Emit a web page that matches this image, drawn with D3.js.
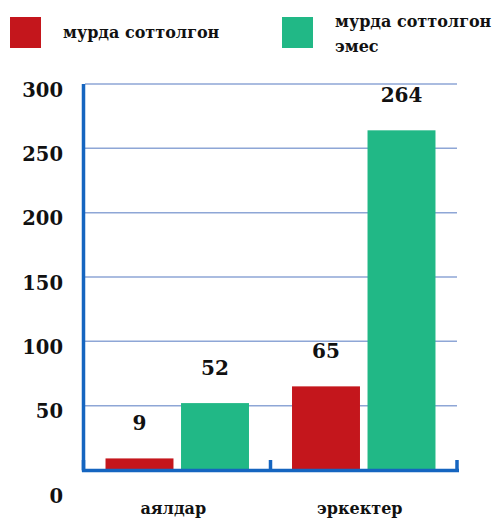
<!DOCTYPE html>
<html>
<head>
<meta charset="utf-8">
<script src="https://cdn.jsdelivr.net/npm/d3@7"></script>
<style>
  body { margin: 0; background: #fff; }
  text { font-family: "DejaVu Serif", serif; font-weight: bold; fill: #111; }
</style>
</head>
<body>
<div id="chart"></div>
<script>
var categories = ['аялдар', 'эркектер'];
var seriesNames = ['мурда соттолгон', 'мурда соттолгон эмес'];
var convicted = [9, 65];
var notConvicted = [52, 264];
var yTicks = [0, 50, 100, 150, 200, 250, 300];
var colors = ['#c4161c', '#21b886'];

var width = 496, height = 521;
var axisColor = '#1565c0', gridColor = '#8ea6d6';

var svg = d3.select('#chart').append('svg')
  .attr('width', width)
  .attr('height', height);

var x = d3.scaleBand().domain(categories).range([84, 457]);
var y = d3.scaleLinear().domain([0, 300]).range([470, 84]);
var xs = d3.scaleBand().domain(seriesNames).range([0, x.bandwidth()]).paddingInner(0.1).paddingOuter(0.285);

// gridlines
svg.selectAll('.grid')
  .data(yTicks.filter(function(d) { return d > 0; }))
  .enter().append('line')
  .attr('x1', 85).attr('x2', 457)
  .attr('y1', function(d) { return y(d); })
  .attr('y2', function(d) { return y(d); })
  .attr('stroke', gridColor)
  .attr('stroke-width', 1.5);

// tick labels
svg.selectAll('.ylab')
  .data(yTicks)
  .enter().append('text')
  .attr('x', 63)
  .attr('y', function(d) { return y(d) + (d === 0 ? 26 : 6); })
  .attr('dy', '0.35em')
  .attr('text-anchor', 'end')
  .style('font-size', '19.5px')
  .text(function(d) { return d; });

// bars
var rows = categories.map(function(c, i) {
  return { cat: c, values: [convicted[i], notConvicted[i]] };
});
var groups = svg.selectAll('.grp')
  .data(rows)
  .enter().append('g')
  .attr('transform', function(d) { return 'translate(' + x(d.cat) + ',0)'; });

groups.selectAll('rect')
  .data(function(d) { return d.values.map(function(v, j) { return { s: seriesNames[j], v: v, j: j }; }); })
  .enter().append('rect')
  .attr('x', function(d) { return xs(d.s); })
  .attr('width', xs.bandwidth())
  .attr('y', function(d) { return y(d.v); })
  .attr('height', function(d) { return y(0) - y(d.v); })
  .attr('fill', function(d) { return colors[d.j]; });

groups.selectAll('.val')
  .data(function(d) { return d.values.map(function(v, j) { return { s: seriesNames[j], v: v }; }); })
  .enter().append('text')
  .attr('x', function(d) { return xs(d.s) + xs.bandwidth() / 2; })
  .attr('y', function(d) { return y(d.v) - 28; })
  .attr('text-anchor', 'middle')
  .style('font-size', '20px')
  .text(function(d) { return d.v; });

// axes
svg.append('line')
  .attr('x1', 83.5).attr('x2', 83.5)
  .attr('y1', y(300)).attr('y2', y(0) + 1.5)
  .attr('stroke', axisColor).attr('stroke-width', 3.5);
svg.append('line')
  .attr('x1', 82).attr('x2', 459)
  .attr('y1', y(0) + 0.5).attr('y2', y(0) + 0.5)
  .attr('stroke', axisColor).attr('stroke-width', 3.5);
svg.selectAll('.xtick')
  .data([83.5, x(categories[1]), 457])
  .enter().append('line')
  .attr('x1', function(d) { return d; }).attr('x2', function(d) { return d; })
  .attr('y1', y(0) - 10).attr('y2', y(0))
  .attr('stroke', axisColor).attr('stroke-width', 3.5);

// category labels
svg.selectAll('.xlab')
  .data(categories)
  .enter().append('text')
  .attr('x', function(d) { return x(d) + x.bandwidth() / 2 - 4; })
  .attr('y', 514)
  .attr('text-anchor', 'middle')
  .style('font-size', '16px')
  .text(function(d) { return d; });

// legend
var legend = svg.selectAll('.legend')
  .data(seriesNames)
  .enter().append('g')
  .attr('transform', function(d, i) { return 'translate(' + (10 + i * 272) + ',17)'; });
legend.append('rect')
  .attr('width', 31).attr('height', 31)
  .attr('fill', function(d, i) { return colors[i]; });
legend.each(function(d, i) {
  var g = d3.select(this);
  var t = g.append('text').attr('x', 53).style('font-size', '16px');
  if (i === 0) {
    t.attr('y', 21).text(d);
  } else {
    t.append('tspan').attr('x', 53).attr('y', 10).text('мурда соттолгон');
    t.append('tspan').attr('x', 53).attr('y', 35).text('эмес');
  }
});
</script>
</body>
</html>
